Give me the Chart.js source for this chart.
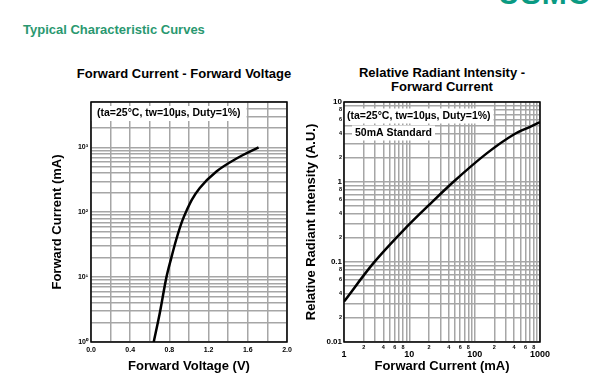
<!DOCTYPE html>
<html>
<head>
<meta charset="utf-8">
<script src="https://cdn.jsdelivr.net/npm/chart.js@4.4.0/dist/chart.umd.min.js"></script>
<style>
body { margin: 0; background: #fff; width: 605px; height: 379px; overflow: hidden; position: relative;
       font-family: "Liberation Sans", Arial, sans-serif; }
.abs { position: absolute; white-space: nowrap; }
#logo { left: 498px; top: -21px; font: bold 30px/30px "Liberation Sans", Arial, sans-serif; color: #0a9a82; letter-spacing: 1px; }
#head { left: 23px; top: 22px; font: bold 13px/15px "Liberation Sans", Arial, sans-serif; color: #2a9870; }
.ttl { font: bold 13px/14.4px "Liberation Sans", Arial, sans-serif; color: #000; text-align: center; width: 260px; }
#t1 { left: 54px; top: 67px; }
#t2 { left: 312px; top: 65.5px; }
#c1 { position: absolute; left: 0; top: 0; }
#c2 { position: absolute; left: 300px; top: 0; }
</style>
</head>
<body>
<div id="logo" class="abs">USMO</div>
<div id="head" class="abs">Typical Characteristic Curves</div>
<div id="t1" class="abs ttl">Forward Current - Forward Voltage</div>
<div id="t2" class="abs ttl">Relative Radiant Intensity -<br>Forward Current</div>
<canvas id="c1" width="300" height="379"></canvas>
<canvas id="c2" width="305" height="379"></canvas>
<script>
// Forward current vs forward voltage
const fvVoltage = [0.64, 0.70, 0.77, 0.82, 0.87, 0.93, 0.98, 1.03, 1.11, 1.28, 1.49, 1.71];
const fvCurrent = [1, 2.7, 10, 20, 38, 73, 110, 157, 237, 425, 680, 1000];

// Relative radiant intensity vs forward current
const riCurrent = [1, 2.8, 9.1, 20.7, 47, 153, 392, 705, 1000];
const riIntensity = [0.032, 0.096, 0.274, 0.53, 1.0, 2.28, 3.9, 4.9, 5.6];

// tick labels
const fvYDecades = [1, 10, 100, 1000];
const fvYLabels = ['10\u2070', '10\u00b9', '10\u00b2', '10\u00b3'];
const riXDecades = [1, 10, 100, 1000];
const riXLabels = ['1', '10', '100', '1000'];
const riYDecades = [0.01, 0.1, 1, 10];
const riYLabels = ['0.01', '0.1', '1', '10'];
const minorLabelled = [2, 4, 6, 8];

const note = '(ta=25\u00b0C, tw=10\u00b5s, Duty=1%)';
const FONT = '"Liberation Sans", Arial, sans-serif';
Chart.defaults.font.family = FONT;
Chart.defaults.color = '#000';

// every 1..9 step of each decade between min and max
function logTicks(min, max) {
    const out = [];
    for (let d = min; d < max * 1.0001; d *= 10) {
        for (let m = 1; m <= 9; m++) {
            const v = Number((m * d).toPrecision(6));
            if (v > max * 1.0001) break;
            out.push({ value: v, major: m === 1 });
        }
    }
    return out;
}
function decadeIndex(list, v) {
    return list.findIndex(d => Math.abs(d - v) / d < 1e-6);
}
function mantissa(v) {
    return Math.round(v / Math.pow(10, Math.floor(Math.log10(v) + 1e-9)));
}

const gridOpts = { color: '#a6a6a6', lineWidth: 1.5, drawTicks: false };

const framePlugin = {
    id: 'frame',
    beforeDatasetsDraw(chart, args, opts) {
        const { ctx, chartArea: a } = chart;
        ctx.save();
        ctx.font = 'bold 10.5px ' + FONT;
        ctx.textBaseline = 'middle';
        for (const n of opts.notes) {
            const w = ctx.measureText(n.text).width;
            ctx.fillStyle = '#fff';
            ctx.fillRect(a.left + n.dx - n.pad, a.top + n.dy - 7.5, w + 2 * n.pad, 15);
            ctx.fillStyle = '#000';
            ctx.fillText(n.text, a.left + n.dx, a.top + n.dy);
        }
        ctx.restore();
    },
    afterDatasetsDraw(chart) {
        const { ctx, chartArea: a } = chart;
        ctx.save();
        ctx.strokeStyle = '#000';
        ctx.lineWidth = 1.5;
        ctx.strokeRect(a.left, a.top, a.right - a.left, a.bottom - a.top);
        ctx.restore();
    }
};

new Chart(document.getElementById('c1'), {
    type: 'line',
    data: {
        datasets: [{
            data: fvVoltage.map((v, i) => ({ x: v, y: fvCurrent[i] })),
            borderColor: '#000',
            borderWidth: 2.5,
            pointRadius: 0,
            cubicInterpolationMode: 'monotone'
        }]
    },
    plugins: [framePlugin],
    options: {
        responsive: false,
        animation: false,
        layout: { padding: { top: 102, right: 13, bottom: 0, left: 0 } },
        plugins: {
            legend: { display: false },
            tooltip: { enabled: false },
            frame: { notes: [{ text: note, dx: 6, dy: 11.5, pad: 6 }] }
        },
        scales: {
            x: {
                type: 'linear',
                min: 0, max: 2,
                grid: gridOpts,
                border: { display: false },
                ticks: {
                    stepSize: 0.2,
                    autoSkip: false,
                    maxRotation: 0,
                    padding: 4,
                    font: { size: 7, weight: 'bold' },
                    callback: v => Math.round(v * 10) % 4 === 0 ? v.toFixed(1) : ''
                },
                title: { display: true, text: 'Forward Voltage (V)', font: { size: 13, weight: 'bold' },
                         padding: { top: 0, bottom: 5 } },
                afterFit(s) { s.height = 37; }
            },
            y: {
                type: 'logarithmic',
                min: 1, max: 5000,
                grid: gridOpts,
                border: { display: false },
                afterBuildTicks(s) { s.ticks = logTicks(1, 5000); },
                ticks: {
                    autoSkip: false,
                    padding: 3,
                    font: { size: 7, weight: 'bold' },
                    callback: v => {
                        const i = decadeIndex(fvYDecades, v);
                        return i >= 0 ? fvYLabels[i] : '';
                    }
                },
                title: { display: true, text: 'Forward Current (mA)', font: { size: 13, weight: 'bold' },
                         padding: { top: 50, bottom: 0 } },
                afterFit(s) { s.width = 91; }
            }
        }
    }
});

new Chart(document.getElementById('c2'), {
    type: 'line',
    data: {
        datasets: [{
            data: riCurrent.map((c, i) => ({ x: c, y: riIntensity[i] })),
            borderColor: '#000',
            borderWidth: 2.5,
            pointRadius: 0,
            cubicInterpolationMode: 'monotone'
        }]
    },
    plugins: [framePlugin],
    options: {
        responsive: false,
        animation: false,
        layout: { padding: { top: 102, right: 65, bottom: 0, left: 0 } },
        plugins: {
            legend: { display: false },
            tooltip: { enabled: false },
            frame: { notes: [
                { text: note, dx: 3, dy: 14, pad: 3 },
                { text: '50mA Standard', dx: 11, dy: 31, pad: 3 }
            ] }
        },
        scales: {
            x: {
                type: 'logarithmic',
                min: 1, max: 1000,
                grid: gridOpts,
                border: { display: false },
                afterBuildTicks(s) { s.ticks = logTicks(1, 1000); },
                ticks: {
                    autoSkip: false,
                    maxRotation: 0,
                    padding: 2,
                    font: ctx => decadeIndex(riXDecades, ctx.tick.value) >= 0
                        ? { size: 9, weight: 'bold', lineHeight: '6.7px' }
                        : { size: 5.5, weight: 'bold' },
                    callback: v => {
                        const i = decadeIndex(riXDecades, v);
                        if (i >= 0) return ['', riXLabels[i]];
                        return minorLabelled.includes(mantissa(v)) ? String(mantissa(v)) : '';
                    }
                },
                title: { display: true, text: 'Forward Current (mA)', font: { size: 13, weight: 'bold' },
                         padding: { top: 0, bottom: 5 } },
                afterFit(s) { s.height = 37; }
            },
            y: {
                type: 'logarithmic',
                min: 0.01, max: 10,
                grid: gridOpts,
                border: { display: false },
                afterBuildTicks(s) { s.ticks = logTicks(0.01, 10); },
                ticks: {
                    autoSkip: false,
                    padding: 2,
                    font: ctx => decadeIndex(riYDecades, ctx.tick.value) >= 0
                        ? { size: 8, weight: 'bold' }
                        : { size: 5.5, weight: 'bold' },
                    callback: v => {
                        const i = decadeIndex(riYDecades, v);
                        if (i >= 0) return riYLabels[i];
                        return minorLabelled.includes(mantissa(v)) ? String(mantissa(v)) : '';
                    }
                },
                title: { display: true, text: 'Relative Radiant Intensity (A.U.)', font: { size: 13, weight: 'bold' },
                         padding: { top: 4, bottom: 0 } },
                afterFit(s) { s.width = 44; }
            }
        }
    }
});
</script>
</body>
</html>
